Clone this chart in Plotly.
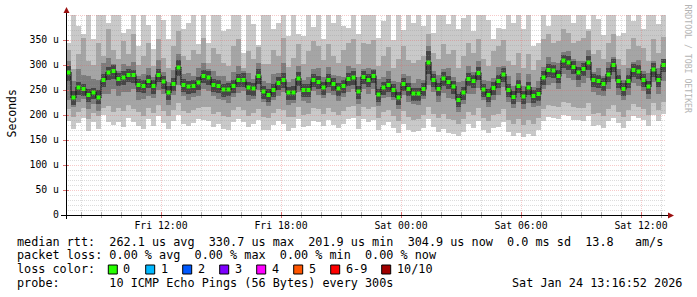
import numpy as np
import pandas as pd
import plotly.graph_objects as go

# ---------------- data ----------------
bin_start = "2026-01-23 07:22:30"   # centre of first 15-minute bin
n_bins = 120
times = pd.date_range(bin_start, periods=n_bins, freq="15min")

median = [285,235,255,252,240,245,235,270,285,288,
          272,275,280,280,260,258,268,258,280,267,
          245,262,295,260,257,258,265,278,275,260,
          258,251,251,258,270,270,255,253,278,247,
          240,250,264,270,245,245,273,250,250,270,
          266,255,270,262,253,258,272,275,247,276,
          270,278,241,255,260,250,235,262,252,243,
          243,252,305,270,252,273,266,257,230,245,
          272,268,284,251,240,254,268,281,250,236,
          258,237,255,238,242,275,290,289,278,309,
          305,296,285,292,305,270,268,262,281,300,
          268,252,268,290,287,270,257,291,270,300]

# smoke bands (spread of the pings), outer -> inner
hi1 = [345,400,378,362,400,352,400,400,385,400,
       400,365,372,400,338,400,380,332,400,390,
       352,400,400,372,385,400,342,400,345,400,
       400,368,372,400,400,325,400,382,340,400,
       400,372,385,400,358,400,362,358,400,376,
       400,352,400,385,400,378,375,400,362,400,
       400,400,355,388,400,350,400,370,400,385,
       400,378,400,365,400,400,382,400,372,395,
       400,368,400,400,390,352,375,372,400,385,
       400,372,400,338,345,400,378,400,400,400,
       400,385,400,400,372,400,392,360,400,400,
       358,365,400,388,400,372,400,400,382,400]
lo1 = [188,172,184,194,168,186,172,200,186,180,
       187,176,194,186,178,172,192,178,198,184,
       172,188,200,182,178,184,192,190,188,176,
       182,172,170,186,192,186,176,182,190,170,
       170,180,188,182,168,174,192,176,178,188,
       186,178,190,180,174,182,192,194,172,192,
       186,190,170,180,186,174,164,182,170,166,
       168,174,192,176,166,172,164,162,158,166,
       182,174,188,170,164,174,176,186,166,158,
       164,156,162,158,170,188,196,194,192,200,
       198,190,190,188,198,178,180,174,188,194,
       184,174,188,198,194,190,178,200,188,202]
hi2 = [330,292,322,355,308,300,345,318,372,330,
       312,348,322,362,300,318,345,298,352,315,
       295,338,368,318,310,330,322,355,305,335,
       322,305,298,338,352,295,328,312,336,302,
       302,330,318,355,296,315,342,302,328,348,
       338,310,342,318,305,330,345,352,302,345,
       342,350,298,318,336,295,312,338,310,305,
       310,318,362,325,312,342,322,330,295,318,
       345,325,352,312,298,328,338,350,308,300,
       325,295,322,290,310,352,362,345,348,372,
       365,345,348,355,368,322,330,312,345,362,
       312,300,332,355,338,335,308,352,325,356]
lo2 = [212,196,206,215,192,205,198,214,218,206,
       214,208,220,213,206,198,214,204,220,208,
       198,210,224,208,204,210,214,216,217,202,
       207,198,196,210,217,210,198,204,213,196,
       194,204,212,210,196,197,217,200,202,214,
       212,203,214,206,200,208,216,218,198,217,
       212,216,194,206,210,198,188,208,196,190,
       192,200,217,203,194,202,192,190,183,192,
       207,200,214,194,188,200,202,212,190,182,
       192,180,190,182,194,212,220,218,216,227,
       224,216,214,214,224,202,204,198,212,220,
       207,196,210,222,216,212,200,224,210,227]
hi3 = [308,268,292,280,278,272,270,304,315,302,
       288,302,298,306,278,282,295,276,310,286,
       266,290,322,282,284,278,294,304,292,288,
       278,279,268,286,298,288,284,272,304,268,
       264,282,284,305,266,272,298,270,276,292,
       294,276,296,280,278,276,298,294,276,292,
       294,292,272,276,288,268,266,282,279,264,
       272,271,338,288,280,292,294,276,266,268,
       298,286,309,271,268,274,296,298,279,258,
       284,258,282,256,269,296,316,306,304,326,
       329,312,308,308,330,286,294,278,306,316,
       292,270,294,306,310,288,284,308,294,312]
lo3 = [230,216,226,232,212,222,208,242,243,252,
       238,246,246,252,230,232,238,234,250,242,
       220,240,260,238,230,236,238,252,248,238,
       232,230,224,236,244,248,228,232,250,226,
       218,230,238,246,220,224,246,228,224,248,
       240,234,244,240,228,236,246,252,223,252,
       242,252,218,234,236,230,212,240,226,222,
       220,232,260,246,226,244,234,232,206,222,
       242,242,254,230,216,230,240,256,226,214,
       226,212,224,216,218,252,260,264,252,282,
       274,270,256,264,274,246,240,238,252,272,
       240,230,240,264,258,248,232,266,242,268]
hi4 = [298,248,266,262,252,255,250,282,296,300,
       284,288,292,290,272,270,280,270,292,278,
       258,274,310,272,268,270,276,290,288,272,
       270,262,264,270,282,284,266,265,292,258,
       252,262,276,284,256,258,286,262,262,282,
       278,266,282,274,264,270,284,288,258,288,
       282,290,252,266,272,262,246,274,264,254,
       254,264,328,282,264,286,278,268,242,256,
       284,280,296,262,252,266,280,294,262,248,
       270,248,266,250,254,288,302,300,290,320,
       318,308,296,304,318,282,280,274,294,312,
       280,264,280,302,300,282,268,304,282,312]
lo4 = [268,220,240,238,226,232,222,256,270,272,
       258,260,266,264,246,244,254,242,266,252,
       230,248,278,246,242,244,250,264,260,246,
       244,236,238,244,256,256,240,238,262,232,
       226,236,250,254,230,230,258,236,236,256,
       252,240,256,248,238,244,258,260,232,262,
       256,264,226,240,246,236,220,248,238,228,
       228,238,282,256,238,258,252,242,216,230,
       258,254,270,236,226,240,254,266,236,222,
       244,222,240,224,228,260,276,274,264,294,
       290,282,270,278,290,256,254,248,266,286,
       254,238,254,276,272,256,242,276,256,286]

x_range = ["2026-01-23 07:15", "2026-01-24 13:15"]
y_range = [0, 400]
ytick_vals = [0, 50, 100, 150, 200, 250, 300, 350]
ytick_text = ["0", "50 u", "100 u", "150 u", "200 u", "250 u", "300 u", "350 u"]
xtick_vals = ["2026-01-23 12:00", "2026-01-23 18:00", "2026-01-24 00:00",
              "2026-01-24 06:00", "2026-01-24 12:00"]
xtick_text = ["Fri 12:00", "Fri 18:00", "Sat 00:00", "Sat 06:00", "Sat 12:00"]

legend_lines = [
    "median rtt:  262.1 us avg  330.7 us max  201.9 us min  304.9 us now  0.0 ms sd  13.8   am/s",
    "packet loss: 0.00 % avg  0.00 % max  0.00 % min  0.00 % now",
    "loss color:",
    "probe:       10 ICMP Echo Pings (56 Bytes) every 300s",
]
loss_labels = ["0", "1", "2", "3", "4", "5", "6-9", "10/10"]
loss_colors = ["#26ff00", "#00b8ff", "#0059ff", "#7e00ff", "#ff00ff", "#ff5500", "#ff0000", "#a10000"]
stamp = "Sat Jan 24 13:16:52 2026"
watermark = "RRDTOOL / TOBI OETIKER"

# ---------------- layout geometry ----------------
W, H = 697, 297
PL, PR, PT, PB = 66, 666, 15, 215   # plot area in pixels
MONO = "DejaVu Sans Mono"

def px(x):
    return (x - PL) / (PR - PL)

def py(y):
    return (PB - y) / (PB - PT)

def nb(s):
    return s.replace(" ", "\u00a0")

bin_ms = 15 * 60 * 1000
smoke = [
    (lo1, hi1, "#c9c9c9"),
    (lo2, hi2, "#a5a5a5"),
    (lo3, hi3, "#7c7c7c"),
    (lo4, hi4, "#464646"),
]

fig = go.Figure()
for lo, hi, col in smoke:
    lo_a = np.array(lo, dtype=float)
    hi_a = np.array(hi, dtype=float)
    fig.add_trace(go.Bar(x=times, y=hi_a - lo_a, base=lo_a, width=bin_ms,
                         marker=dict(color=col, line=dict(width=0)),
                         hoverinfo="skip", showlegend=False))
# median: dark step connector + green loss-coloured points
fig.add_trace(go.Scatter(x=times, y=median, mode="lines",
                         line=dict(color="#151515", width=1.1, shape="hvh"),
                         hoverinfo="skip", showlegend=False))
fig.add_trace(go.Scatter(x=times, y=median, mode="markers",
                         marker=dict(symbol="square", size=4, color="#26ff00",
                                     line=dict(width=0)),
                         showlegend=False))

shapes = []
MAJOR_GRID = "rgba(230,90,90,0.33)"
MINOR_GRID = "rgba(150,150,150,0.33)"
half_px = pd.Timedelta(seconds=90)
hours = pd.date_range("2026-01-23 08:00", "2026-01-24 13:00", freq="1h")
for h in hours:
    major = h.hour % 6 == 0
    col = MAJOR_GRID if major else MINOR_GRID
    shapes.append(dict(type="line", xref="x", yref="paper",
                       x0=h + half_px, x1=h + half_px, y0=0, y1=1,
                       line=dict(color=col, width=1, dash="1px,1px"), layer="above"))
    tcol = "#e07070" if major else "#b0b0b0"
    shapes.append(dict(type="line", xref="x", yref="paper",
                       x0=h + half_px, x1=h + half_px, y0=py(218), y1=py(212),
                       line=dict(color=tcol, width=1), layer="above"))
for v in range(10, 401, 10):
    major = v % 50 == 0
    col = MAJOR_GRID if major else MINOR_GRID
    shapes.append(dict(type="line", xref="paper", yref="y",
                       x0=0, x1=1, y0=v - 1, y1=v - 1,
                       line=dict(color=col, width=1, dash="1px,1px"), layer="above"))
    if major and v < 400:
        shapes.append(dict(type="line", xref="paper", yref="y",
                           x0=px(63), x1=px(69), y0=v - 1, y1=v - 1,
                           line=dict(color="#e07070", width=1), layer="above"))

# axes with arrows
shapes.append(dict(type="line", xref="paper", yref="paper",
                   x0=px(61), x1=px(669), y0=py(215.5), y1=py(215.5),
                   line=dict(color="black", width=1), layer="above"))
shapes.append(dict(type="line", xref="paper", yref="paper",
                   x0=px(66.5), x1=px(66.5), y0=py(219), y1=py(12),
                   line=dict(color="black", width=1), layer="above"))
shapes.append(dict(type="path", xref="paper", yref="paper",
                   path=f"M {px(63.5)} {py(13)} L {px(69.5)} {py(13)} L {px(66.5)} {py(7)} Z",
                   fillcolor="#9b1010", line=dict(width=0), layer="above"))
shapes.append(dict(type="path", xref="paper", yref="paper",
                   path=f"M {px(668)} {py(212.5)} L {px(668)} {py(218.5)} L {px(674)} {py(215.5)} Z",
                   fillcolor="#9b1010", line=dict(width=0), layer="above"))

annotations = []
line_y = [241.5, 255.2, 268.9, 282.6]
for txt, yy in zip(legend_lines, line_y):
    annotations.append(dict(x=px(16), y=py(yy), xref="paper", yref="paper",
                            text=nb(txt), showarrow=False, xanchor="left", yanchor="middle",
                            borderpad=0, font=dict(family=MONO, size=11.8, color="black")))
annotations.append(dict(x=px(683.5), y=py(282.6), xref="paper", yref="paper",
                        text=nb(stamp), showarrow=False, xanchor="right", yanchor="middle",
                        borderpad=0, font=dict(family=MONO, size=11.8, color="black")))
sq_x = [108.3, 145.7, 182.7, 219.7, 256.7, 293.7, 330.7, 381.7]
for sx, lab, col in zip(sq_x, loss_labels, loss_colors):
    shapes.append(dict(type="rect", xref="paper", yref="paper",
                       x0=px(sx), x1=px(sx + 9), y0=py(265), y1=py(274),
                       fillcolor=col, line=dict(color="black", width=1), layer="above"))
    annotations.append(dict(x=px(sx + 14), y=py(268.9), xref="paper", yref="paper",
                            text=nb(lab), showarrow=False, xanchor="left", yanchor="middle",
                            borderpad=0, font=dict(family=MONO, size=11.8, color="black")))
annotations.append(dict(x=px(11), y=py(113.5), xref="paper", yref="paper",
                        text="Seconds", textangle=-90, showarrow=False,
                        xanchor="center", yanchor="middle", borderpad=0,
                        font=dict(family=MONO, size=11.5, color="black")))
annotations.append(dict(x=px(687.5), y=py(59), xref="paper", yref="paper",
                        text=nb(watermark), textangle=90, showarrow=False,
                        xanchor="center", yanchor="middle", borderpad=0,
                        font=dict(family=MONO, size=8.2, color="#b4b4b4")))

fig.update_layout(
    width=W, height=H,
    margin=dict(l=PL, r=W - PR, t=PT, b=H - PB, pad=0),
    paper_bgcolor="white", plot_bgcolor="white",
    barmode="overlay", bargap=0, showlegend=False,
    shapes=shapes, annotations=annotations,
    xaxis=dict(type="date", range=x_range, showgrid=False, zeroline=False,
               showline=False, ticks="", tickvals=xtick_vals, ticktext=xtick_text,
               tickfont=dict(family=MONO, size=9.8, color="black"),
               ticklabelstandoff=3, fixedrange=True),
    yaxis=dict(range=y_range, showgrid=False, zeroline=False, showline=False,
               ticks="", tickvals=ytick_vals, ticktext=ytick_text,
               tickfont=dict(family=MONO, size=9.8, color="black"),
               ticklabelstandoff=6, fixedrange=True),
)

fig.write_html("out.html", config={"displayModeBar": False})
